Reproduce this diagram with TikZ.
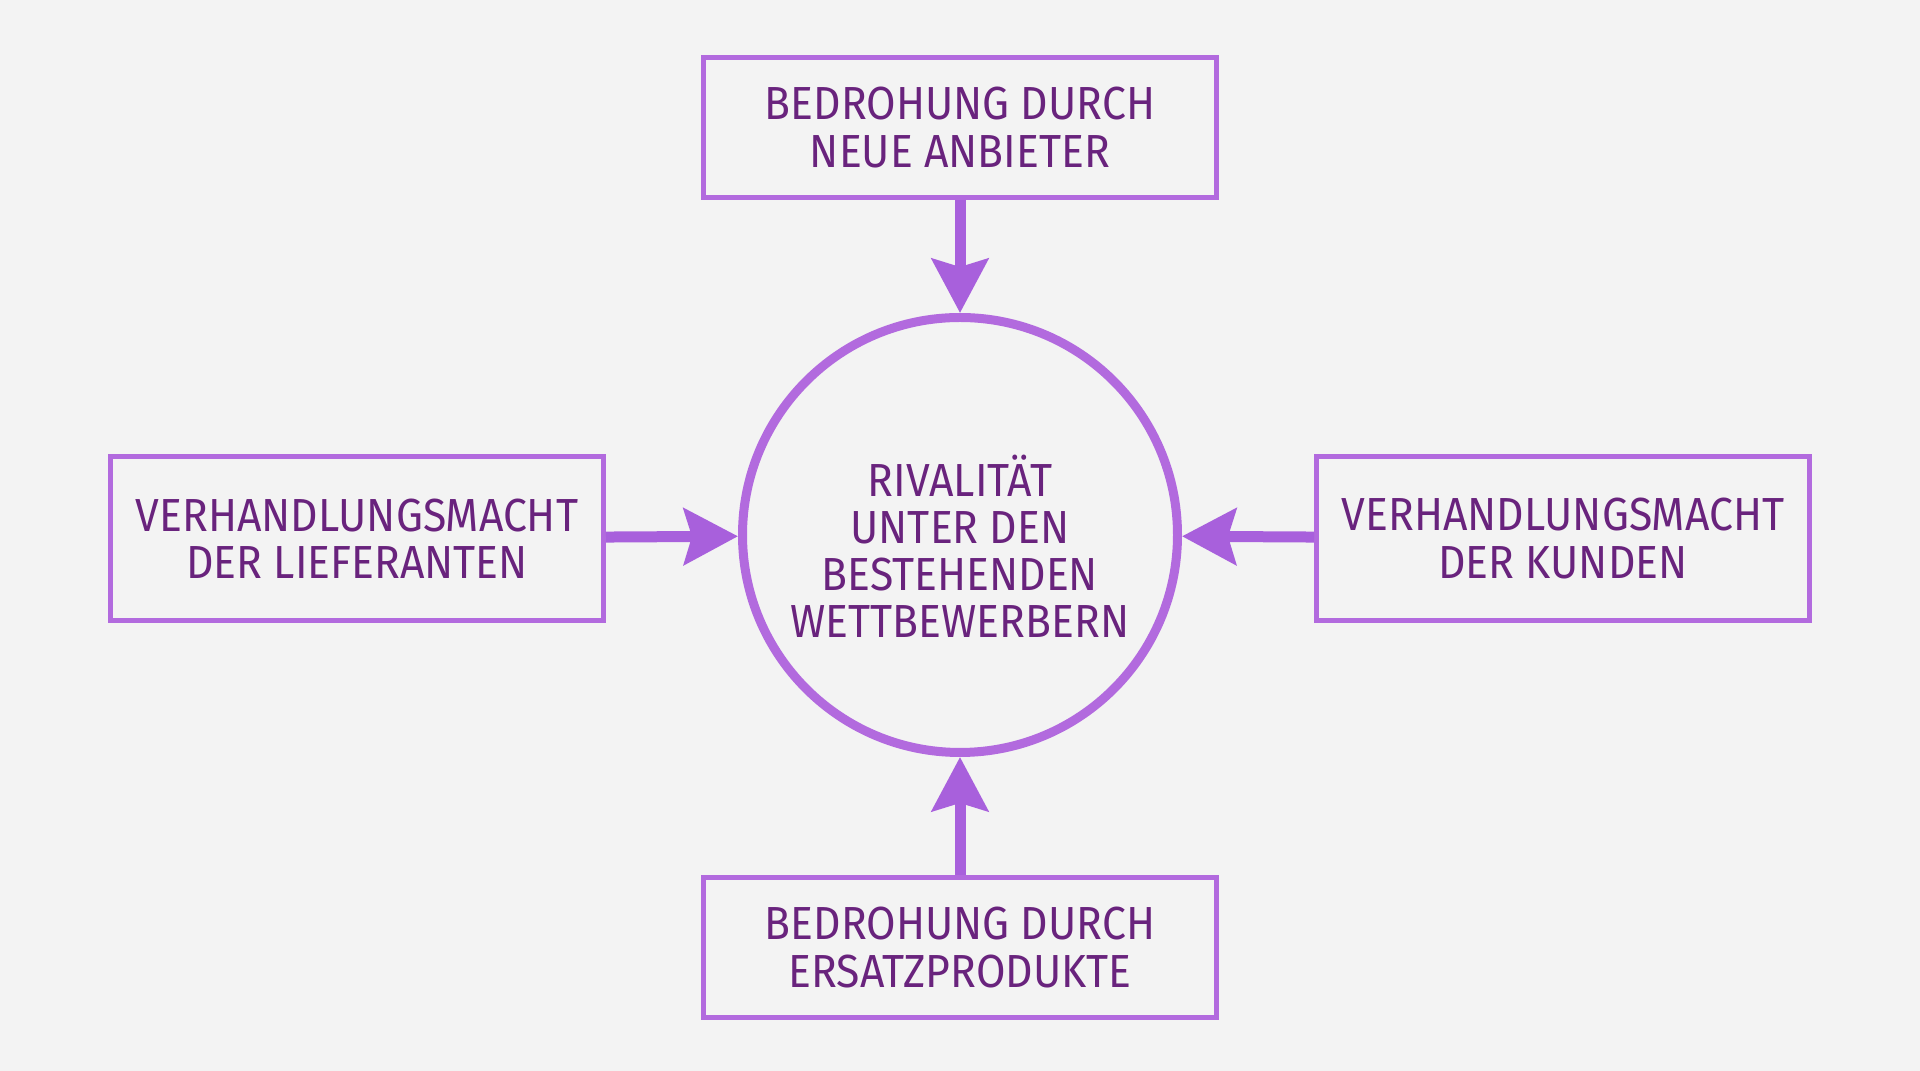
\documentclass[tikz,border=0pt]{standalone}
\usepackage{fontspec}
\setmainfont{Fira Sans}[FakeStretch=0.92]
\usetikzlibrary{arrows.meta}

\definecolor{bgcol}{RGB}{243,243,243}
\definecolor{linecol}{RGB}{178,106,222}
\definecolor{arrcol}{RGB}{168,96,220}
\definecolor{txtcol}{RGB}{105,35,125}

\tikzset{
  force/.style={draw=linecol, line width=0.5mm, inner sep=0pt, align=center,
    text=txtcol, font=\fontsize{13.2}{13.4}\selectfont},
  rival/.style={circle, draw=linecol, line width=0.9mm, minimum size=43.5mm,
    inner sep=0pt},
  rivtext/.style={text=txtcol, align=center, font=\fontsize{13.2}{13.4}\selectfont,
    yshift=-1.1mm},
  arr/.style={draw=arrcol, line width=1.1mm,
    -{Stealth[length=5.4mm, width=5.6mm, inset=0.8mm]}},
}

\begin{document}
\begin{tikzpicture}[x=0.1mm, y=-0.1mm]
				\fill[bgcol] (0, 0) rectangle (1920, 1071);
				\node[rival, label={[rivtext]center:RIVALITÄT\\UNTER DEN\\BESTEHENDEN\\WETTBEWERBERN}] (riv) at (960, 535) {};
				\node[force, minimum width=51.3mm, minimum height=14mm] (neu) at (960, 127.5) {BEDROHUNG DURCH\\NEUE ANBIETER};
				\node[force, minimum width=49.3mm, minimum height=16.4mm] (lief) at (357, 538.5) {VERHANDLUNGSMACHT\\DER LIEFERANTEN};
				\node[force, minimum width=49.3mm, minimum height=16.4mm] (kund) at (1563, 538.5) {VERHANDLUNGSMACHT\\DER KUNDEN};
				\node[force, minimum width=51.3mm, minimum height=14mm] (ers) at (960, 947.5) {BEDROHUNG DURCH\\ERSATZPRODUKTE};
				\draw[arr] (neu) to (riv);
				\draw[arr] (lief) to (riv);
				\draw[arr] (kund) to (riv);
				\draw[arr] (ers) to (riv);
			\end{tikzpicture}
\end{document}
